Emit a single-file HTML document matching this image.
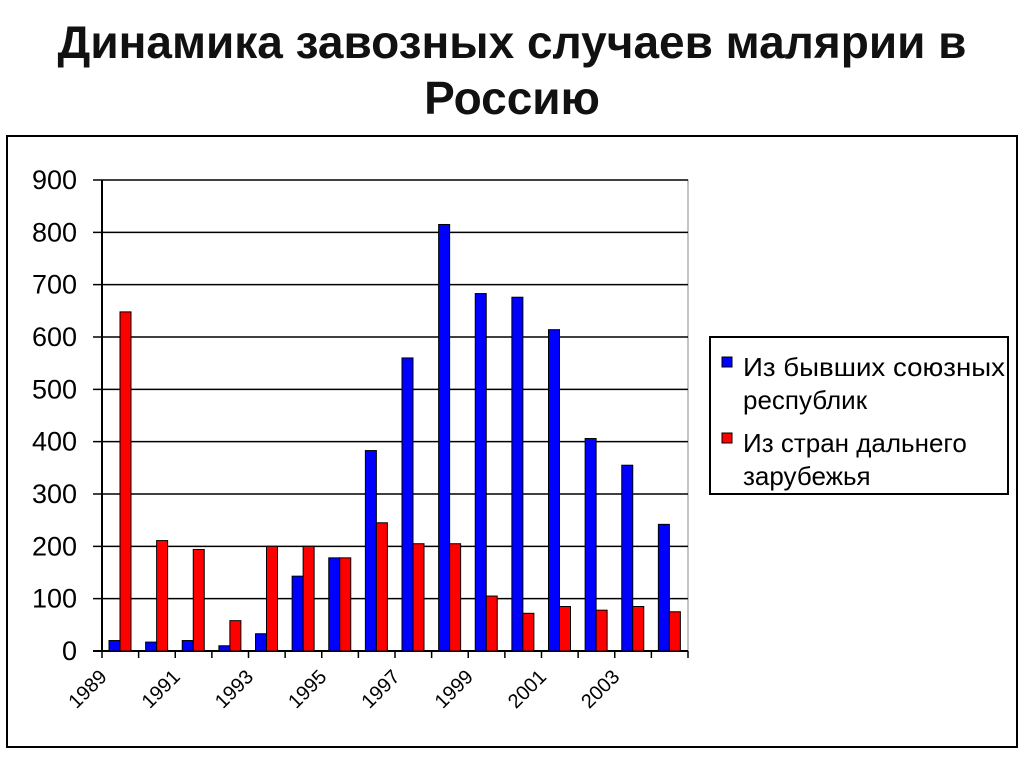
<!DOCTYPE html>
<html><head><meta charset="utf-8"><style>
body{margin:0;background:#fff;width:1024px;height:767px;overflow:hidden;font-family:"Liberation Sans",sans-serif}
h1{position:absolute;left:0;width:1024px;top:14px;margin:0;text-align:center;font-size:46px;font-weight:bold;line-height:56px;color:#111}
</style></head><body>
<h1>Динамика завозных случаев малярии в<br>Россию</h1>
<svg width="1024" height="767" style="position:absolute;left:0;top:0" font-family="Liberation Sans, sans-serif">
<rect x="7" y="136" width="1010" height="611" fill="none" stroke="#000" stroke-width="2"/>
<rect x="102" y="180" width="586" height="471" fill="none" stroke="#888" stroke-width="1"/>
<g id="g"></g>
<rect x="710" y="337" width="298" height="157" fill="#fff" stroke="#000" stroke-width="2"/>
<rect x="722" y="357" width="10" height="10" fill="#00f" stroke="#000"/>
<rect x="722" y="433" width="10" height="10" fill="#f00" stroke="#000"/>
<text x="743" y="376" font-size="26" textLength="262" lengthAdjust="spacingAndGlyphs">Из бывших союзных</text>
<text x="743" y="409" font-size="26">республик</text>
<text x="743" y="452" font-size="26">Из стран дальнего</text>
<text x="743" y="485" font-size="26">зарубежья</text>
</svg>
<script>
var g=document.getElementById('g'),s='';
var B=[20,17,20,10,33,143,178,383,560,815,683,676,614,406,355,242],R=[648,211,194,58,200,200,178,245,205,205,105,72,85,78,85,75];
var k=471/900,w=586/16;
for(var i=0;i<=9;i++){var y=651-i*100*k;s+='<line x1="93" x2="688" y1="'+y+'" y2="'+y+'" stroke="#000" stroke-width="'+(i==0?2:1.5)+'"/>';s+='<text x="77" y="'+(y+9)+'" font-size="27" text-anchor="end">'+(i*100)+'</text>';}
s+='<line x1="102" x2="102" y1="180" y2="651" stroke="#000" stroke-width="2"/>';
for(var i=0;i<16;i++){var x=102+i*w;
s+='<rect x="'+(x+7)+'" y="'+(651-B[i]*k)+'" width="11" height="'+(B[i]*k)+'" fill="#00f" stroke="#000"/>';
s+='<rect x="'+(x+18)+'" y="'+(651-R[i]*k)+'" width="11" height="'+(R[i]*k)+'" fill="#f00" stroke="#000"/>';}
for(var i=0;i<=16;i++){var x=102+i*w;s+='<line x1="'+x+'" x2="'+x+'" y1="651" y2="658" stroke="#000" stroke-width="1.5"/>';}
for(var i=0;i<16;i+=2){var x=102+i*w+6,y=678;s+='<text transform="translate('+x+','+y+') rotate(-45)" font-size="20" text-anchor="end">'+(1989+i)+'</text>';}
g.innerHTML=s;
</script>
</body></html>
